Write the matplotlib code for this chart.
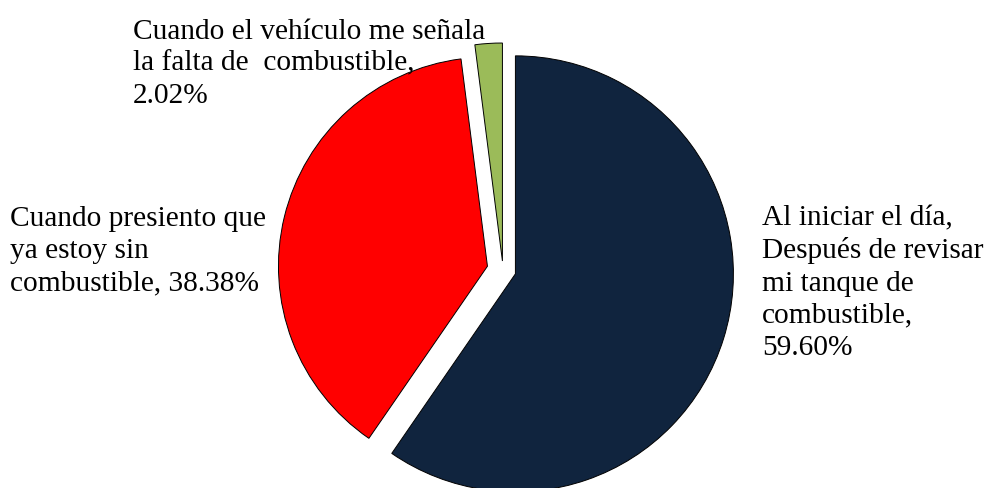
import matplotlib
matplotlib.use("Agg")
import matplotlib.pyplot as plt

# Data
labels = [
    "Al iniciar el día,\nDespués de revisar\nmi tanque de\ncombustible,\n59.60%",
    "Cuando presiento que\nya estoy sin\ncombustible, 38.38%",
    "Cuando el vehículo me señala\nla falta de  combustible,\n2.02%",
]
values = [59.60, 38.38, 2.02]
colors = ["#10243E", "#FF0000", "#9BBB59"]
# radial offsets of each wedge (data units)
explode = [13, 16, 9]

W, H = 986, 489
fig = plt.figure(figsize=(W / 100, H / 100), dpi=100)
ax = fig.add_axes([0, 0, 1, 1])

center = (503, H - 271)
radius = 218
wedges, _ = ax.pie(values, colors=colors, explode=explode, startangle=90,
                   counterclock=False, center=center, radius=radius,
                   wedgeprops=dict(edgecolor="black", linewidth=0.7))
wedges[1].set_radius(209)
ax.set_xlim(0, W)
ax.set_ylim(0, H)
ax.set_aspect("equal")
ax.axis("off")

font = dict(family="Liberation Serif", size=21.2, color="black", linespacing=1.31)
# label anchors (left edge, last-line baseline)
pos = [(762, 355), (10, 290), (133, 103)]
for text, (x, y) in zip(labels, pos):
    ax.text(x, H - y, text, ha="left", va="baseline", **font)

fig.savefig("out.png", dpi=100)
